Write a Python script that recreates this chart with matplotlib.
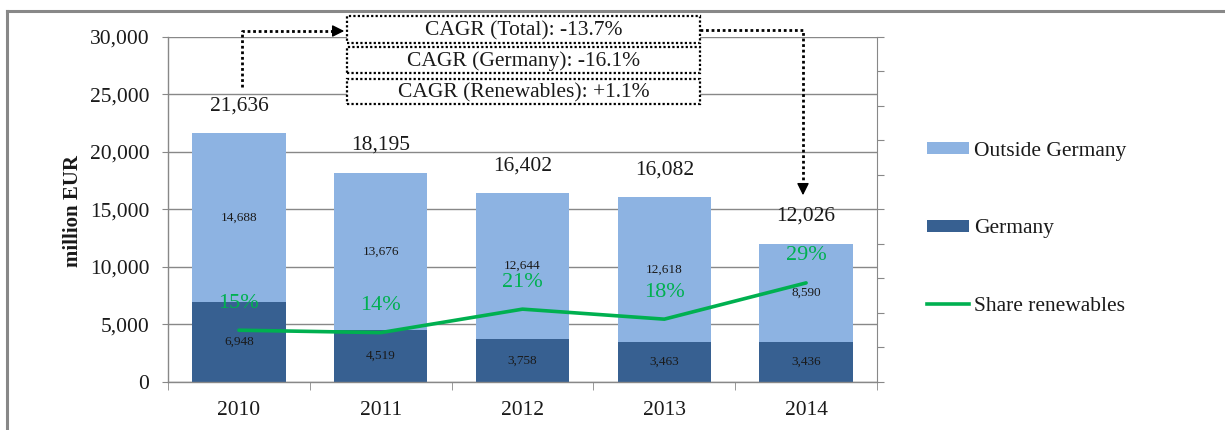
import matplotlib
matplotlib.use("Agg")
import matplotlib.pyplot as plt
from matplotlib.patches import Rectangle, Patch
from matplotlib.lines import Line2D
import numpy as np

# ---------------- data ----------------
years = ["2010", "2011", "2012", "2013", "2014"]
germany = [6948, 4519, 3758, 3463, 3436]
outside = [14688, 13676, 12644, 12618, 8590]
totals = [21636, 18195, 16402, 16082, 12026]
share = [0.150, 0.143, 0.211, 0.182, 0.287]
share_labels = ["15%", "14%", "21%", "18%", "29%"]
cagr_texts = ["CAGR (Total): -13.7%", "CAGR (Germany): -16.1%", "CAGR (Renewables): +1.1%"]
yticks = [0, 5000, 10000, 15000, 20000, 25000, 30000]

# ---------------- style ----------------
plt.rcParams["font.family"] = ["Liberation Serif", "DejaVu Serif"]
LIGHT = "#8DB3E2"
DARK = "#376091"
GREEN = "#00B050"
GRID = "#888888"
TXT = "#1a1a1a"
FS = 15.5

W, H = 1225, 430
fig = plt.figure(figsize=(W / 100, H / 100), dpi=100)
fig.patch.set_facecolor("white")


def px(x, y):
    return (x / W, 1 - y / H)


left, right, bottom, top = 168, 877, 382, 36.7
ax = fig.add_axes([left / W, 1 - bottom / H, (right - left) / W, (bottom - top) / H])
x = np.arange(len(years))
bw = 0.66
ax.bar(x, germany, bw, color=DARK, zorder=2, label="Germany")
ax.bar(x, outside, bw, bottom=germany, color=LIGHT, zorder=2, label="Outside Germany")

ax.set_xlim(-0.5, len(years) - 0.5)
ax.set_ylim(0, 30000)
ax.set_yticks(yticks)
ax.set_yticklabels([f"{v:,}" for v in yticks], fontsize=FS, color=TXT)
ax.set_xticks(x)
ax.set_xticklabels(years, fontsize=FS, color=TXT)
ax.set_xticks(np.arange(-0.5, len(years), 1.0), minor=True)
ax.tick_params(axis="x", which="major", length=0, pad=14)
ax.tick_params(axis="x", which="minor", length=5.5, color=GRID, direction="out")
ax.tick_params(axis="y", length=4.5, color=GRID, direction="out", pad=9)
ax.yaxis.grid(True, color=GRID, linewidth=1.0)
ax.set_axisbelow(True)
for s in ["top", "right"]:
    ax.spines[s].set_visible(False)
for s in ["left", "bottom"]:
    ax.spines[s].set_color(GRID)
    ax.spines[s].set_linewidth(1.0)

# segment labels
for i in range(len(years)):
    ax.text(x[i], germany[i] / 2, f"{germany[i]:,}", ha="center", va="center", fontsize=9.5, color=TXT, zorder=3)
    ax.text(x[i], germany[i] + outside[i] / 2, f"{outside[i]:,}", ha="center", va="center", fontsize=9.5, color=TXT, zorder=3)
    ax.annotate(f"{totals[i]:,}", (x[i], germany[i] + outside[i]), xytext=(0, 19.5), textcoords="offset points",
                ha="center", va="center", fontsize=FS, color=TXT)

# secondary axis
ax2 = ax.twinx()
ax2.set_ylim(0, 1)
ax2.set_yticks(np.arange(0, 1.01, 0.1))
ax2.set_yticklabels([])
ax2.tick_params(axis="y", length=5, color=GRID, direction="out")
for s in ["top", "left", "bottom"]:
    ax2.spines[s].set_visible(False)
ax2.spines["right"].set_color(GRID)
ax2.plot(x, share, color=GREEN, linewidth=2.6, solid_capstyle="round", label="Share renewables")
for i in range(len(years)):
    ax2.annotate(share_labels[i], (x[i], share[i]), xytext=(0, 19.5), textcoords="offset points",
                 ha="center", va="center", fontsize=FS + 0.5, color=GREEN)

# legend
handles = [Patch(facecolor=LIGHT, edgecolor="none"), Patch(facecolor=DARK, edgecolor="none"),
           Line2D([0], [0], color=GREEN, linewidth=2.6)]
labels = ["Outside Germany", "Germany", "Share renewables"]
fig.legend(handles, labels, loc="center left", bbox_to_anchor=px(927, 229), frameon=False,
           fontsize=FS, handlelength=1.95, handleheight=0.5, handletextpad=0.25, labelspacing=2.72,
           borderpad=0, borderaxespad=0, labelcolor=TXT)

# CAGR boxes
boxes = [(16, 43), (47, 73), (79, 104)]
for (y0, y1), t in zip(boxes, cagr_texts):
    x0, x1 = 347, 700
    fig.add_artist(Rectangle(px(x0, y1), (x1 - x0) / W, (y1 - y0) / H, transform=fig.transFigure,
                             facecolor="white", edgecolor="black", linestyle=(0, (1, 1)), linewidth=1.6, zorder=5))
    fig.text(*px((x0 + x1) / 2, (y0 + y1) / 2 + 1), t, ha="center", va="center", fontsize=FS, color=TXT, zorder=6)

# dotted arrows
def dotted(points):
    xs = [px(a, b)[0] for a, b in points]
    ys = [px(a, b)[1] for a, b in points]
    fig.add_artist(Line2D(xs, ys, transform=fig.transFigure, color="black", linestyle=(0, (1, 1)),
                          linewidth=2.0, zorder=4))


dotted([(242, 87), (242, 31), (338, 31)])
dotted([(700, 30), (803, 30), (803, 188)])
fig.add_artist(matplotlib.patches.FancyArrowPatch(px(336, 31), px(347, 31), transform=fig.transFigure,
                                                 arrowstyle="-|>", mutation_scale=18, color="black", zorder=6))
fig.add_artist(matplotlib.patches.FancyArrowPatch(px(803, 186), px(803, 198), transform=fig.transFigure,
                                                 arrowstyle="-|>", mutation_scale=18, color="black", zorder=6))

# y label
fig.text(*px(73, 211), "million EUR", rotation=90, ha="center", va="center", fontsize=15, fontweight="bold", color=TXT)

# outer frame (top and left)
fig.add_artist(Line2D([px(7, 11)[0], 1], [px(7, 11)[1]] * 2, transform=fig.transFigure, color="#888888", linewidth=2.2))
fig.add_artist(Line2D([px(7, 11)[0]] * 2, [px(7, 11)[1], 0], transform=fig.transFigure, color="#888888", linewidth=2.2))

fig.savefig("out.png", dpi=100)
